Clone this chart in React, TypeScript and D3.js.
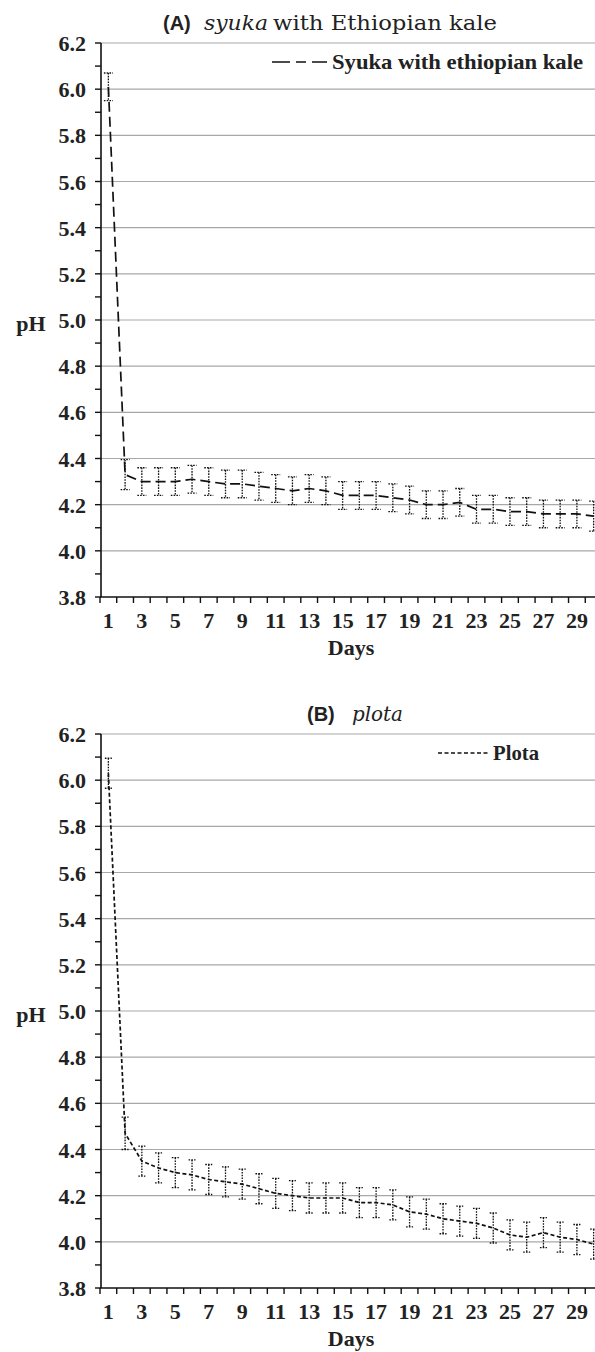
import React from "react";
import * as d3 from "d3";

const days: number[] = Array.from({ length: 30 }, (_, i) => i + 1);
const tickDays: number[] = [1, 3, 5, 7, 9, 11, 13, 15, 17, 19, 21, 23, 25, 27, 29];
const yTicks: number[] = [3.8, 4.0, 4.2, 4.4, 4.6, 4.8, 5.0, 5.2, 5.4, 5.6, 5.8, 6.0, 6.2];
const yMinor: number[] = [3.9, 4.1, 4.3, 4.5, 4.7, 4.9, 5.1, 5.3, 5.5, 5.7, 5.9, 6.1];

const syukaMean: number[] = [6.01, 4.33, 4.30, 4.30, 4.30, 4.31, 4.30, 4.29, 4.29, 4.28, 4.27, 4.26, 4.27, 4.26, 4.24, 4.24, 4.24, 4.23, 4.22, 4.20, 4.20, 4.21, 4.18, 4.18, 4.17, 4.17, 4.16, 4.16, 4.16, 4.15];
const syukaErr: number[] = [0.06, 0.065, 0.06, 0.06, 0.06, 0.06, 0.06, 0.06, 0.06, 0.06, 0.06, 0.06, 0.06, 0.06, 0.06, 0.06, 0.06, 0.06, 0.06, 0.06, 0.06, 0.06, 0.06, 0.06, 0.06, 0.06, 0.06, 0.06, 0.06, 0.065];

const plotaMean: number[] = [6.03, 4.47, 4.35, 4.32, 4.30, 4.29, 4.27, 4.26, 4.25, 4.23, 4.21, 4.20, 4.19, 4.19, 4.19, 4.17, 4.17, 4.16, 4.13, 4.12, 4.10, 4.09, 4.08, 4.06, 4.03, 4.02, 4.04, 4.02, 4.01, 3.99];
const plotaErr: number[] = [0.065, 0.07, 0.065, 0.065, 0.065, 0.065, 0.065, 0.065, 0.065, 0.065, 0.065, 0.065, 0.065, 0.065, 0.065, 0.065, 0.065, 0.065, 0.065, 0.065, 0.065, 0.065, 0.065, 0.065, 0.065, 0.065, 0.065, 0.065, 0.065, 0.065];

const SERIF = "'Liberation Serif', 'Times New Roman', serif";
const TSERIF = "'DejaVu Serif', 'Liberation Serif', serif";
const SANS = "'Liberation Sans', Arial, sans-serif";

type PanelProps = {
  top: number;
  mean: number[];
  err: number[];
  dash: string;
  capW: number;
  legendLabel: string;
  legendX1: number;
  legendX2: number;
  legendTextX: number;
  legendTextLen: number;
  legendDash: string;
  titleTag: string;
  titleTagX: number;
  titleItalic: string;
  titleItalicX: number;
  titleItalicLen: number;
  titleRest?: string;
  titleRestX?: number;
  titleRestLen?: number;
};

function Panel(p: PanelProps) {
  const yTop = p.top;
  const yBot = p.top + 554;
  const left = 101;
  const x = d3.scaleBand<number>().domain(days).range([100, 602]).padding(0);
  const y = d3.scaleLinear().domain([3.8, 6.2]).range([yBot, yTop]);
  const cx = (d: number) => (x(d) as number) + x.bandwidth() / 2;
  const line = d3
    .line<number>()
    .x((_, i) => cx(days[i]))
    .y((v) => y(v));
  const boundaries = d3.range(0, 31).map((i) => 100 + i * x.bandwidth());

  return (
    <g>
      {/* title */}
      <text x={p.titleTagX} y={yTop - 13} fontFamily={SANS} fontWeight="bold" fontSize={20} fill="#222">
        {p.titleTag}
      </text>
      <text x={p.titleItalicX} y={yTop - 13} fontFamily={TSERIF} fontStyle="italic" fontSize={20} fill="#222"
        textLength={p.titleItalicLen} lengthAdjust="spacingAndGlyphs">
        {p.titleItalic}
      </text>
      {p.titleRest && (
        <text x={p.titleRestX} y={yTop - 13} fontFamily={TSERIF} fontSize={20} fill="#222"
          textLength={p.titleRestLen} lengthAdjust="spacingAndGlyphs">
          {p.titleRest}
        </text>
      )}
      {/* gridlines */}
      {yTicks.slice(1).map((t) => (
        <line key={"g" + t} x1={left} x2={595} y1={y(t)} y2={y(t)} stroke="#a8a8a8" strokeWidth={1.2} />
      ))}
      {/* y axis */}
      <line x1={left} x2={left} y1={yTop} y2={yBot} stroke="#111" strokeWidth={1.6} />
      {yTicks.concat(yMinor).map((t) => (
        <line key={"yt" + t} x1={95} x2={left} y1={y(t)} y2={y(t)} stroke="#111" strokeWidth={1.4} />
      ))}
      {yTicks.map((t) => (
        <text key={"yl" + t} x={86} y={y(t) + 8} textAnchor="end" fontFamily={SERIF} fontWeight="bold" fontSize={22} fill="#222">
          {t.toFixed(1)}
        </text>
      ))}
      <text x={31} y={y(5.0) + 11} textAnchor="middle" fontFamily={SERIF} fontWeight="bold" fontSize={22} fill="#222">
        pH
      </text>
      {/* x axis */}
      <line x1={left - 1} x2={595} y1={yBot} y2={yBot} stroke="#111" strokeWidth={1.6} />
      {boundaries.map((b, i) => (
        <line key={"xt" + i} x1={b} x2={b} y1={yBot} y2={yBot + 6} stroke="#111" strokeWidth={1.4} />
      ))}
      {tickDays.map((d) => (
        <text key={"xl" + d} x={cx(d)} y={yBot + 31} textAnchor="middle" fontFamily={SERIF} fontWeight="bold" fontSize={22} fill="#222">
          {d}
        </text>
      ))}
      <text x={351} y={yBot + 58} textAnchor="middle" fontFamily={SERIF} fontWeight="bold" fontSize={22} fill="#222">
        Days
      </text>
      {/* error bars */}
      {days.map((d, i) => {
        const xc = cx(d);
        const hi = y(p.mean[i] + p.err[i]);
        const lo = y(p.mean[i] - p.err[i]);
        return (
          <g key={"e" + d} stroke="#111" strokeWidth={1.3} strokeDasharray="1.6,1.2">
            <line x1={xc} x2={xc} y1={hi} y2={lo} />
            <line x1={xc - p.capW / 2} x2={xc + p.capW / 2} y1={hi} y2={hi} />
            <line x1={xc - p.capW / 2} x2={xc + p.capW / 2} y1={lo} y2={lo} />
          </g>
        );
      })}
      {/* main line */}
      <path d={line(p.mean) as string} fill="none" stroke="#111" strokeWidth={1.7} strokeDasharray={p.dash} />
      {/* legend */}
      <line x1={p.legendX1} x2={p.legendX2} y1={yTop + 19} y2={yTop + 19} stroke="#111" strokeWidth={1.7} strokeDasharray={p.legendDash} />
      <text x={p.legendTextX} y={yTop + 26} fontFamily={SERIF} fontWeight="bold" fontSize={22} fill="#222"
        textLength={p.legendTextLen} lengthAdjust="spacingAndGlyphs">
        {p.legendLabel}
      </text>
    </g>
  );
}

export default function App() {
  return (
    <svg width={595} height={1352} style={{ position: "absolute", left: 0, top: 0, background: "#fff" }}>
      <rect x={0} y={0} width={595} height={1352} fill="#fff" />
      <Panel
        top={43}
        mean={syukaMean}
        err={syukaErr}
        dash="10,5"
        capW={9}
        legendLabel="Syuka with ethiopian kale"
        legendX1={272}
        legendX2={327}
        legendTextX={332}
        legendTextLen={251}
        legendDash="18,6,10,6"
        titleTag="(A)"
        titleTagX={163}
        titleItalic="syuka"
        titleItalicX={204}
        titleItalicLen={64}
        titleRest="with Ethiopian kale"
        titleRestX={273}
        titleRestLen={224}
      />
      <Panel
        top={734}
        mean={plotaMean}
        err={plotaErr}
        dash="4,2.5"
        capW={7}
        legendLabel="Plota"
        legendX1={438}
        legendX2={488}
        legendTextX={493}
        legendTextLen={46}
        legendDash="4,2.5"
        titleTag="(B)"
        titleTagX={307}
        titleItalic="plota"
        titleItalicX={352}
        titleItalicLen={51}
      />
    </svg>
  );
}
